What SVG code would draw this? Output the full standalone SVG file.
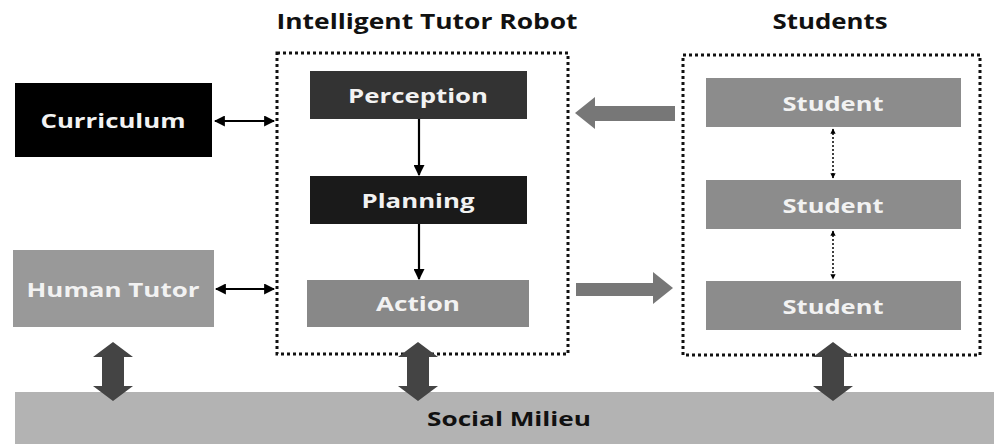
<svg xmlns="http://www.w3.org/2000/svg" width="994" height="444" viewBox="0 0 994 444">
<style>
text{font-family:"Open Sans","Noto Sans","DejaVu Sans",sans-serif;font-weight:bold;text-anchor:middle;dominant-baseline:central}
.lbl{font-size:20px;fill:#f2f2f2}
.title{font-size:21px;fill:#111}
.dot{fill:none;stroke:#111;stroke-width:3;stroke-dasharray:3 3}
.thin{stroke:#000;stroke-width:2.2;fill:none}
.dthin{stroke:#000;stroke-width:1.5;fill:none;stroke-dasharray:2 2}
.big{fill:#444}
.flow{fill:#777}
</style>
<defs>
<marker id="ah" viewBox="0 0 10 10" refX="9" refY="5" markerWidth="5" markerHeight="5" orient="auto-start-reverse"><path d="M0,0 L10,5 L0,10 z" fill="#000"/></marker>
<marker id="ahs" viewBox="0 0 10 10" refX="9" refY="5" markerWidth="3.5" markerHeight="3.5" orient="auto-start-reverse"><path d="M0,0 L10,5 L0,10 z" fill="#000"/></marker>
</defs>
<rect width="994" height="444" fill="#fff"/>
<g id="social-milieu"><rect x="15" y="392" width="979" height="52" fill="#b3b3b3"/><text x="509" y="418" style="font-size:20px;fill:#111" textLength="164" lengthAdjust="spacingAndGlyphs">Social Milieu</text></g>
<g id="robot-group"><rect class="dot" x="277" y="53" width="291" height="301"/><text class="title" x="427" y="21" textLength="301" lengthAdjust="spacingAndGlyphs">Intelligent Tutor Robot</text></g>
<g id="students-group"><rect class="dot" x="683" y="55" width="297" height="300"/><text class="title" x="830" y="21" textLength="115" lengthAdjust="spacingAndGlyphs">Students</text></g>
<g id="curriculum"><rect x="15" y="83" width="197" height="74" fill="#000"/><text class="lbl" x="113" y="120" textLength="145" lengthAdjust="spacingAndGlyphs">Curriculum</text></g>
<g id="human-tutor"><rect x="13" y="250" width="201" height="77" fill="#999"/><text class="lbl" x="113" y="289" textLength="173" lengthAdjust="spacingAndGlyphs">Human Tutor</text></g>
<g id="perception"><rect x="310" y="71" width="217" height="48" fill="#333"/><text class="lbl" x="418" y="95" textLength="140" lengthAdjust="spacingAndGlyphs">Perception</text></g>
<g id="planning"><rect x="310" y="176" width="217" height="48" fill="#1a1a1a"/><text class="lbl" x="418" y="200" textLength="113" lengthAdjust="spacingAndGlyphs">Planning</text></g>
<g id="action"><rect x="307" y="280" width="222" height="47" fill="#888"/><text class="lbl" x="418" y="303" textLength="84" lengthAdjust="spacingAndGlyphs">Action</text></g>
<g id="student1"><rect x="706" y="78" width="255" height="49" fill="#8c8c8c"/><text class="lbl" x="833" y="103" textLength="101" lengthAdjust="spacingAndGlyphs">Student</text></g>
<g id="student2"><rect x="706" y="180" width="255" height="49" fill="#8c8c8c"/><text class="lbl" x="833" y="205" textLength="101" lengthAdjust="spacingAndGlyphs">Student</text></g>
<g id="student3"><rect x="706" y="281" width="255" height="49" fill="#8c8c8c"/><text class="lbl" x="833" y="306" textLength="101" lengthAdjust="spacingAndGlyphs">Student</text></g>
<g id="connectors">
<line class="thin" x1="215" y1="121" x2="274" y2="121" marker-start="url(#ah)" marker-end="url(#ah)"/>
<line class="thin" x1="216" y1="289" x2="274" y2="289" marker-start="url(#ah)" marker-end="url(#ah)"/>
<line class="thin" x1="419" y1="119" x2="419" y2="175" marker-end="url(#ah)"/>
<line class="thin" x1="419" y1="224" x2="419" y2="279" marker-end="url(#ah)"/>
<line class="dthin" x1="833" y1="129" x2="833" y2="178" marker-start="url(#ahs)" marker-end="url(#ahs)"/>
<line class="dthin" x1="833" y1="231" x2="833" y2="279" marker-start="url(#ahs)" marker-end="url(#ahs)"/>
<polygon class="flow" points="675,106 595,106 595,97 575,113 595,129 595,121 675,121"/>
<polygon class="flow" points="576,283 653,283 653,272 673,288 653,304 653,296 576,296"/>
<polygon class="big" points="113,342 133,357 124,357 124,386 133,386 113,401 93,386 102,386 102,357 93,357"/>
<polygon class="big" points="418,342 438,357 429,357 429,386 438,386 418,401 398,386 407,386 407,357 398,357"/>
<polygon class="big" points="833,342 853,357 844,357 844,386 853,386 833,401 813,386 822,386 822,357 813,357"/>
</g>
</svg>
